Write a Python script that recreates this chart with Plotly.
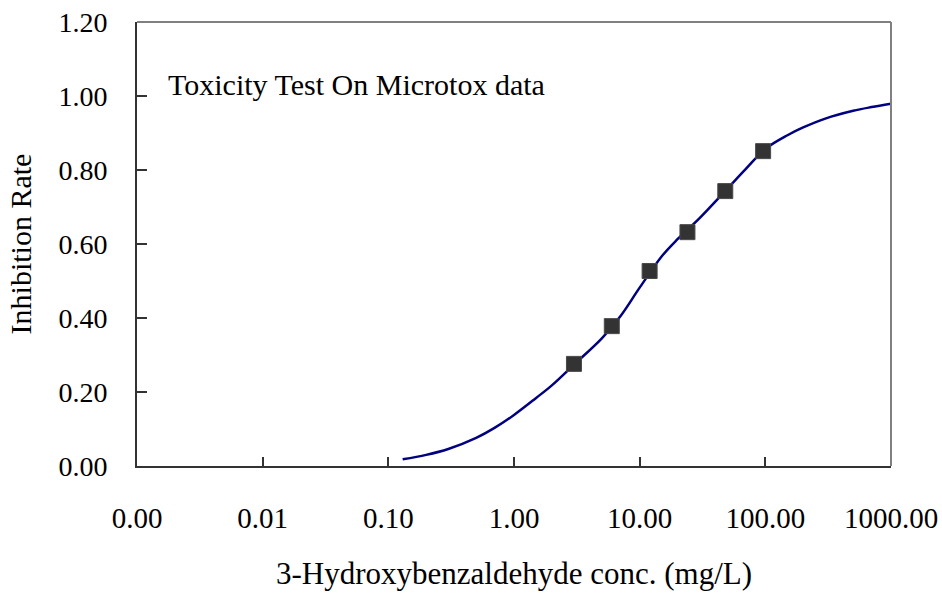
import plotly.graph_objects as go

# Measured data points
conc = [3, 6, 12, 24, 48, 96]
inhibition = [0.276, 0.378, 0.527, 0.632, 0.743, 0.851]

# Fitted curve
curve_conc = [0.13, 0.2, 0.3, 0.5, 0.7, 1, 1.5, 2, 3, 5, 7, 10, 15, 20, 30, 50,
              70, 100, 150, 200, 300, 500, 700, 1000]
curve_rate = [0.018, 0.030, 0.046, 0.076, 0.103, 0.138, 0.184, 0.218, 0.274,
              0.345, 0.404, 0.482, 0.567, 0.613, 0.670, 0.750, 0.803, 0.857,
              0.894, 0.915, 0.939, 0.960, 0.970, 0.979]

x_tickvals = [0.001, 0.01, 0.1, 1, 10, 100, 1000]
x_ticktext = ["0.00", "0.01", "0.10", "1.00", "10.00", "100.00", "1000.00"]

FONT = "Liberation Serif, Times New Roman, serif"

fig = go.Figure()
fig.add_trace(go.Scatter(x=curve_conc, y=curve_rate, mode="lines",
                         line=dict(color="#000080", width=2.5, shape="spline",
                                   smoothing=1.0),
                         showlegend=False, hoverinfo="skip"))
fig.add_trace(go.Scatter(x=conc, y=inhibition, mode="markers",
                         marker=dict(symbol="square", size=15, color="#333333",
                                     line=dict(color="#4a4a4a", width=1)),
                         showlegend=False))

fig.update_layout(
    width=942, height=596,
    margin=dict(l=137, r=51, t=22, b=130, autoexpand=False),
    paper_bgcolor="white", plot_bgcolor="white",
    font=dict(family=FONT, size=28, color="black"),
    xaxis=dict(type="log", range=[-3, 3], tickvals=x_tickvals, ticktext=x_ticktext,
               ticks="inside", ticklen=9, tickwidth=1.5, tickcolor="#333333",
               showline=True, linecolor="#333333", linewidth=2,
               showgrid=False, zeroline=False, ticklabelstandoff=25,
               automargin=False, tickfont=dict(size=29),
               title=dict(text="3-Hydroxybenzaldehyde conc. (mg/L)",
                          font=dict(size=31), standoff=30)),
    yaxis=dict(range=[0, 1.2], dtick=0.2, tickformat=".2f",
               ticks="inside", ticklen=10, tickwidth=1.5, tickcolor="#333333",
               showline=True, linecolor="#333333", linewidth=2,
               showgrid=False, zeroline=False, ticklabelstandoff=22,
               automargin=False, tickfont=dict(size=28),
               title=dict(text="Inhibition Rate", font=dict(size=30), standoff=18)),
    shapes=[
        dict(type="line", xref="paper", yref="paper", x0=0, x1=1, y0=1, y1=1,
             line=dict(color="#808080", width=2)),
        dict(type="line", xref="paper", yref="paper", x0=1, x1=1, y0=0, y1=1,
             line=dict(color="#808080", width=2)),
    ],
    annotations=[
        dict(text="Toxicity Test On Microtox data", xref="paper", yref="paper",
             x=0.0385, y=0.86, xanchor="left", yanchor="middle", showarrow=False,
             font=dict(size=30, family=FONT, color="black")),
    ],
)

fig.write_html("out.html")
